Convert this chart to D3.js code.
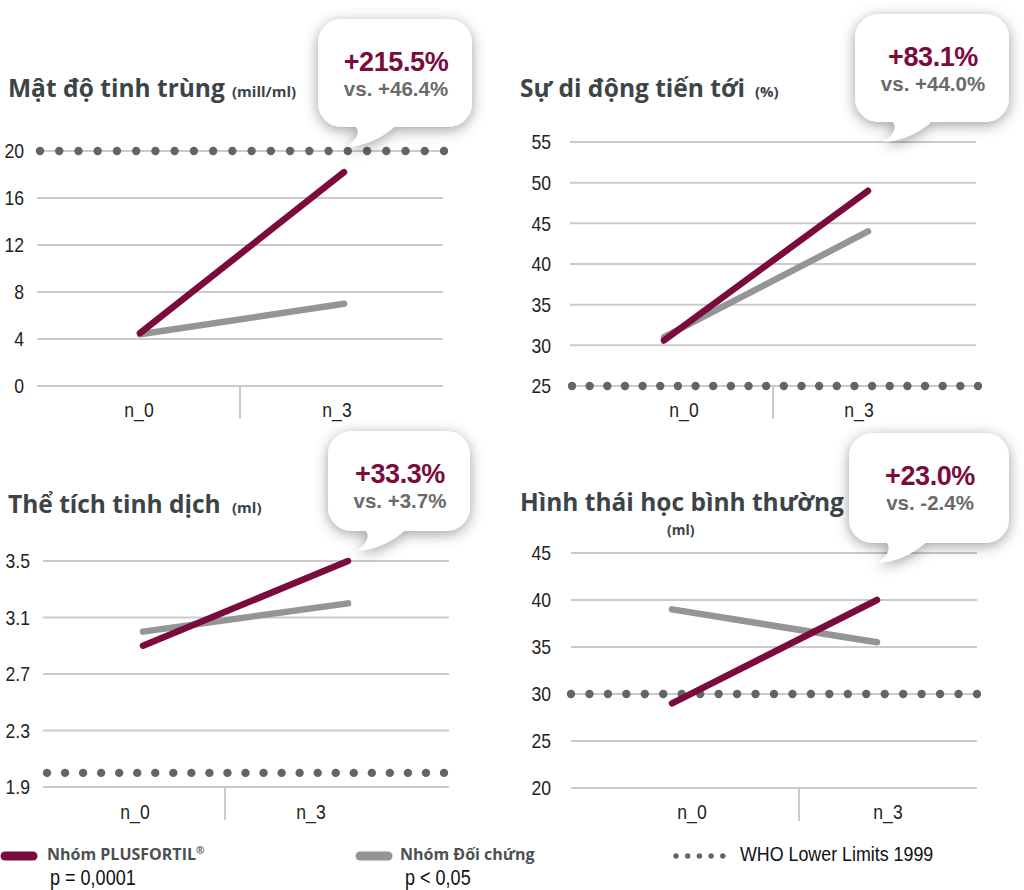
<!DOCTYPE html>
<html><head><meta charset="utf-8">
<script src="https://cdn.jsdelivr.net/npm/d3@7"></script>
<style>
html,body{margin:0;padding:0;background:#fff;}
svg{display:block;}
</style></head>
<body>
<svg id="chart" width="1024" height="890"></svg>
<script>
// ---------- DATA ----------
const categories = ["n_0", "n_3"];
const titles = ["Mật độ tinh trùng", "Sự di động tiến tới", "Thể tích tinh dịch", "Hình thái học bình thường"];
const units = ["(mill/ml)", "(%)", "(ml)", "(ml)"];
const plusfortil = [[4.5, 18.2], [30.6, 49.0], [2.9, 3.5], [29.0, 40.0]];
const control = [[4.4, 7.0], [31.0, 44.0], [3.0, 3.2], [39.0, 35.5]];
const whoLimits = [20, 25, 2.0, 30];
const yTicks = [[0, 4, 8, 12, 16, 20], [25, 30, 35, 40, 45, 50, 55], [1.9, 2.3, 2.7, 3.1, 3.5], [20, 25, 30, 35, 40, 45]];
const yDomains = [[0, 20], [25, 55], [1.9, 3.5], [20, 45]];
const mainChange = ["+215.5%", "+83.1%", "+33.3%", "+23.0%"];
const controlChange = ["vs. +46.4%", "vs. +44.0%", "vs. +3.7%", "vs. -2.4%"];
const legendNames = ["Nhóm PLUSFORTIL", "Nhóm Đối chứng", "WHO Lower Limits 1999"];
const legendP = ["p = 0,0001", "p < 0,05"];

// ---------- LAYOUT ----------
const RED = "#7a0b3c", GRAY = "#959595", DOT = "#646464", GRID = "#cbcbcb", TITLE = "#3c4447";
const layout = [
  {grid:[37,443], yr:[386,151], dots:[40,444,22], lines:[140,344], labs:[139,337], div:240, axY:386, labY:417, tickX:24,
   title:[8,97], unit:[232,97], bub:{x:318,y:19,w:154,h:108}},
  {grid:[570,976], yr:[386,142], dots:[572,978,24], lines:[664,868], labs:[684,859], div:773, axY:386, labY:417, tickX:551,
   title:[520,97], unit:[755,97], bub:{x:855,y:14,w:154,h:108}},
  {grid:[43,449], yr:[787,561], dots:[47,444,23], lines:[143,348], labs:[135,311], div:225, axY:787, labY:819, tickX:30,
   title:[8,513], unit:[232,513], bub:{x:328,y:431,w:142,h:100}},
  {grid:[571,977], yr:[788,553], dots:[571,977,23], lines:[672,877], labs:[692,888], div:799, axY:788, labY:819, tickX:551,
   title:[520,511], unit:[667,535], bub:{x:849,y:433,w:160,h:110}}
];

const svg = d3.select("#chart");
svg.append("rect").attr("width",1024).attr("height",890).attr("fill","#fff");
const defs = svg.append("defs");
const f = defs.append("filter").attr("id","shadow").attr("x","-40%").attr("y","-40%").attr("width","180%").attr("height","180%");
f.append("feDropShadow").attr("dx",0).attr("dy",3).attr("stdDeviation",7).attr("flood-color","#000").attr("flood-opacity",0.38);

const HELV = "'Liberation Sans',Arial,sans-serif";
const TFONT = "'Open Sans','Noto Sans',sans-serif";

// condensed text helper (horizontal squeeze)
function narrowText(sel, x, y, size, sx){
  return sel.attr("transform", `translate(${x},${y}) scale(${sx},1)`)
    .attr("font-family", HELV).attr("font-size", size);
}

function bubblePath(b){
  const x0=b.x, y0=b.y, x1=b.x+b.w, y1=b.y+b.h, r=24;
  return `M${x0+r},${y0} H${x1-r} A${r},${r} 0 0 1 ${x1},${y0+r} V${y1-r} A${r},${r} 0 0 1 ${x1-r},${y1}`+
    ` H${x0+76} Q${x0+56},${y1+18} ${x0+28},${y1+20} Q${x0+34},${y1+17} ${x0+38},${y1+11} Q${x0+42},${y1+4} ${x0+38},${y1}`+
    ` H${x0+r} A${r},${r} 0 0 1 ${x0},${y1-r} V${y0+r} A${r},${r} 0 0 1 ${x0+r},${y0} Z`;
}

layout.forEach((L, i) => {
  const g = svg.append("g");
  const y = d3.scaleLinear().domain(yDomains[i]).range(L.yr);
  const xl = d3.scalePoint().domain(categories).range(L.lines);
  const xa = d3.scalePoint().domain(categories).range(L.labs);

  // gridlines
  g.selectAll(".grid").data(yTicks[i]).join("line")
    .attr("x1",L.grid[0]).attr("x2",L.grid[1])
    .attr("y1",d=>y(d)).attr("y2",d=>y(d))
    .attr("stroke",GRID).attr("stroke-width",2);
  // tick labels
  g.selectAll(".tl").data(yTicks[i]).join("text")
    .each(function(d){ narrowText(d3.select(this), L.tickX, y(d), 20, 0.88); })
    .attr("dy","0.36em").attr("text-anchor","end").attr("fill","#222")
    .text(d=>String(d));
  // divider
  g.append("line").attr("x1",L.div).attr("x2",L.div).attr("y1",L.axY).attr("y2",L.axY+33)
    .attr("stroke",GRID).attr("stroke-width",2);
  // category labels
  g.selectAll(".cl").data(categories).join("text")
    .each(function(d){ narrowText(d3.select(this), xa(d), L.labY, 20, 0.88); })
    .attr("text-anchor","middle").attr("fill","#222").text(d=>d);
  // WHO dotted line
  const nd = L.dots[2];
  const dx = d3.scaleLinear().domain([0,nd-1]).range([L.dots[0],L.dots[1]]);
  g.selectAll(".dot").data(d3.range(nd)).join("circle")
    .attr("cx",d=>dx(d)).attr("cy",y(whoLimits[i])).attr("r",4.2).attr("fill",DOT);
  // series lines
  const line = d3.line().x((d,k)=>xl(categories[k])).y(d=>y(d));
  g.append("path").attr("d",line(control[i])).attr("fill","none").attr("stroke",GRAY)
    .attr("stroke-width",6.5).attr("stroke-linecap","round");
  g.append("path").attr("d",line(plusfortil[i])).attr("fill","none").attr("stroke",RED)
    .attr("stroke-width",6.5).attr("stroke-linecap","round");
  // title
  g.append("text").attr("x",L.title[0]).attr("y",L.title[1]).attr("font-family",TFONT).attr("font-weight",700)
    .attr("font-size",24.5).attr("fill",TITLE).text(titles[i]);
  g.append("text").attr("x",L.unit[0]).attr("y",L.unit[1]).attr("font-family",TFONT).attr("font-weight",700)
    .attr("font-size",i===3?14:15).attr("fill",TITLE).text(units[i]);
  // bubble
  const b = L.bub;
  g.append("path").attr("d",bubblePath(b)).attr("fill","#fff").attr("filter","url(#shadow)");
  const cx = b.x + b.w/2 + 1;
  g.append("text").attr("x",cx).attr("y",b.y+52).attr("text-anchor","middle").attr("font-family",HELV)
    .attr("font-weight",700).attr("font-size",27).attr("letter-spacing",-0.4).attr("fill",RED).text(mainChange[i]);
  g.append("text").attr("x",cx).attr("y",b.y+77).attr("text-anchor","middle").attr("font-family",HELV)
    .attr("font-weight",700).attr("font-size",20.5).attr("fill","#6a6a6a").text(controlChange[i]);
});

// ---------- LEGEND ----------
const lg = svg.append("g");
lg.append("line").attr("x1",5).attr("x2",33).attr("y1",856).attr("y2",856).attr("stroke",RED).attr("stroke-width",9).attr("stroke-linecap","round");
lg.append("line").attr("x1",360).attr("x2",388).attr("y1",856).attr("y2",856).attr("stroke",GRAY).attr("stroke-width",9).attr("stroke-linecap","round");
lg.selectAll(".ld").data(d3.range(5)).join("circle").attr("cx",d=>676+d*11.7).attr("cy",856).attr("r",2.7).attr("fill",DOT);
const t1 = lg.append("text").attr("x",47).attr("y",860).attr("font-family",TFONT).attr("font-weight",700).attr("font-size",16).attr("fill","#4b5053").text(legendNames[0]);
t1.append("tspan").attr("font-size",10).attr("dy",-6).text("®");
lg.append("text").attr("x",400).attr("y",860).attr("font-family",TFONT).attr("font-weight",700).attr("font-size",16).attr("fill","#4b5053").text(legendNames[1]);
narrowText(lg.append("text"), 740, 861, 21, 0.85).attr("fill","#111").text(legendNames[2]);
narrowText(lg.append("text"), 50, 885, 22, 0.82).attr("fill","#111").text(legendP[0]);
narrowText(lg.append("text"), 405, 885, 22, 0.82).attr("fill","#111").text(legendP[1]);
</script>
</body></html>
